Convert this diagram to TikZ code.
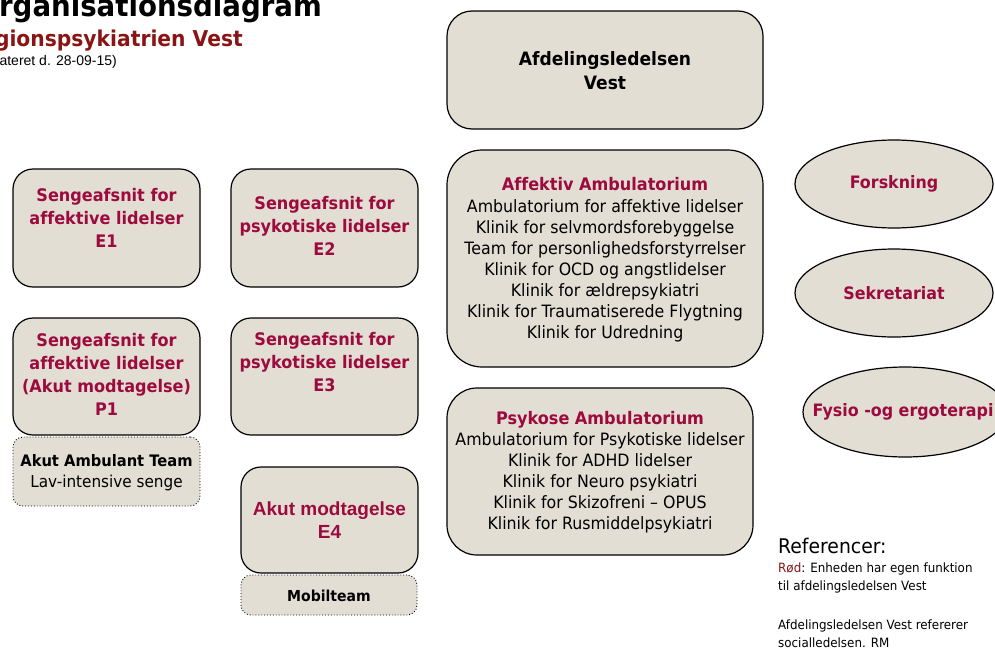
\documentclass[tikz,border=0pt]{standalone}
\usepackage{fontspec}
\setmainfont{DejaVu Sans}[FakeStretch=0.93, Ligatures=NoCommon]
\newfontfamily\arialfont{Liberation Sans}
\usetikzlibrary{shapes.geometric}
\definecolor{boxfill}{HTML}{E2DED4}
\definecolor{unitred}{HTML}{9C0A3E}
\definecolor{titlered}{HTML}{8A1414}
\tikzset{
  unitbox/.style={draw=black, line width=1.2pt, fill=boxfill, rounded corners=20pt,
    rectangle, inner sep=0pt},
  subbox/.style={draw=black, line width=0.9pt, dotted, fill=boxfill, rounded corners=10pt,
    rectangle, inner sep=0pt},
  ovalbox/.style={draw=black, line width=1.2pt, fill=boxfill, ellipse, inner sep=0pt},
  redhead/.style={text=unitred, font=\bfseries\fontsize{17.3}{23}\selectfont, align=center, inner sep=0pt},
  bodytext/.style={text=black, font=\fontsize{17}{21}\selectfont, align=center, inner sep=0pt},
  ovaltext/.style={text=unitred, font=\bfseries\fontsize{17.1}{20}\selectfont, inner sep=0pt},
  legendtext/.style={anchor=base west, inner sep=0pt, font=\fontsize{12.8}{18}\selectfont},
}
\begin{document}
\begin{tikzpicture}[x=1pt, y=-1pt]
\useasboundingbox (0,0) rectangle (995,648);

% heading
\node[anchor=base east, inner sep=0pt, font=\bfseries\fontsize{29.7}{29.7}\selectfont] (title) at (322,16) {Organisationsdiagram};
\node[anchor=base east, inner sep=0pt, text=titlered, font=\bfseries\fontsize{21.8}{21.8}\selectfont] (region) at (243,46) {Regionspsykiatrien Vest};
\node[anchor=base east, inner sep=0pt, font=\arialfont\fontsize{14}{14}\selectfont] (dato) at (117,65) {(Opdateret d. 28-09-15)};

% management
\node[unitbox, rounded corners=25pt, minimum width=316pt, minimum height=118pt] (afd) at (605,70) {};
\node[inner sep=0pt, align=center, font=\bfseries\fontsize{18.4}{24}\selectfont] (afdtxt) at (605,71) {Afdelingsledelsen\\Vest};

% bed sections
\node[unitbox, minimum width=187pt, minimum height=118pt] (e1) at (106.5,228) {};
\node[redhead] (e1txt) at (106.5,218) {Sengeafsnit for\\affektive lidelser\\E1};

\node[unitbox, minimum width=187pt, minimum height=118pt] (e2) at (324.5,228) {};
\node[redhead] (e2txt) at (324.5,226) {Sengeafsnit for\\psykotiske lidelser\\E2};

\node[unitbox, minimum width=187pt, minimum height=117pt] (p1) at (106.5,376.5) {};
\node[redhead] (p1txt) at (106.5,374) {Sengeafsnit for\\affektive lidelser\\(Akut modtagelse)\\P1};

\node[unitbox, minimum width=187pt, minimum height=117pt] (e3) at (324.5,376.5) {};
\node[redhead] (e3txt) at (324.5,362.5) {Sengeafsnit for\\psykotiske lidelser\\E3};

\node[subbox, minimum width=187pt, minimum height=69pt] (aat) at (106.5,471.5) {};
\node[bodytext, font=\fontsize{16.4}{21}\selectfont] (aattxt) at (106.5,472.5) {{\bfseries\fontsize{15.8}{21}\selectfont Akut Ambulant Team}\\Lav-intensive senge};

\node[unitbox, minimum width=177pt, minimum height=106pt] (e4) at (329.5,520) {};
\node[redhead, font=\arialfont\bfseries\fontsize{19}{23}\selectfont] (e4txt) at (329.5,520.5) {Akut modtagelse\\E4};

\node[subbox, minimum width=176pt, minimum height=40pt] (mobil) at (329,595) {};
\node[bodytext, font=\bfseries\fontsize{15.1}{19}\selectfont] (mobiltxt) at (329,596) {Mobilteam};

% outpatient clinics
\node[unitbox, rounded corners=35pt, minimum width=316pt, minimum height=217pt] (aff) at (605,258.5) {};
\node[bodytext] (afftxt) at (605,259.5) {{\color{unitred}\bfseries\fontsize{17.3}{21}\selectfont Affektiv Ambulatorium}\\[1.5pt]
  Ambulatorium for affektive lidelser\\
  Klinik for selvmordsforebyggelse\\
  Team for personlighedsforstyrrelser\\
  Klinik for OCD og angstlidelser\\
  Klinik for ældrepsykiatri\\
  Klinik for Traumatiserede Flygtning\\
  Klinik for Udredning};

\node[unitbox, rounded corners=30pt, minimum width=306pt, minimum height=167pt] (psy) at (600,471.5) {};
\node[bodytext] (psytxt) at (600,472.5) {{\color{unitred}\bfseries\fontsize{17.3}{21}\selectfont Psykose Ambulatorium}\\
  Ambulatorium for Psykotiske lidelser\\
  Klinik for ADHD lidelser\\
  Klinik for Neuro psykiatri\\
  Klinik for Skizofreni – OPUS\\
  Klinik for Rusmiddelpsykiatri};

% staff functions
\node[ovalbox, minimum width=198pt, minimum height=88pt] (forsk) at (894,184) {};
\node[ovaltext] (forsktxt) at (894,184) {Forskning};
\node[ovalbox, minimum width=198pt, minimum height=88pt] (sekr) at (894,293) {};
\node[ovaltext] (sekrtxt) at (894,293) {Sekretariat};
\node[ovalbox, minimum width=204pt, minimum height=90pt] (fysio) at (905,412) {};
\node[ovaltext] (fysiotxt) at (903,412) {Fysio -og ergoterapi};

% legend
\node[anchor=base west, inner sep=0pt, font=\fontsize{20.2}{20}\selectfont] (ref) at (778,553) {Referencer:};
\node[legendtext] (ref1) at (778,572) {{\color{titlered}Rød}: Enheden har egen funktion};
\node[legendtext] (ref2) at (778,590) {til afdelingsledelsen Vest};
\node[legendtext] (ref3) at (778,629) {Afdelingsledelsen Vest refererer};
\node[legendtext] (ref4) at (778,647) {socialledelsen. RM};
\end{tikzpicture}
\end{document}
